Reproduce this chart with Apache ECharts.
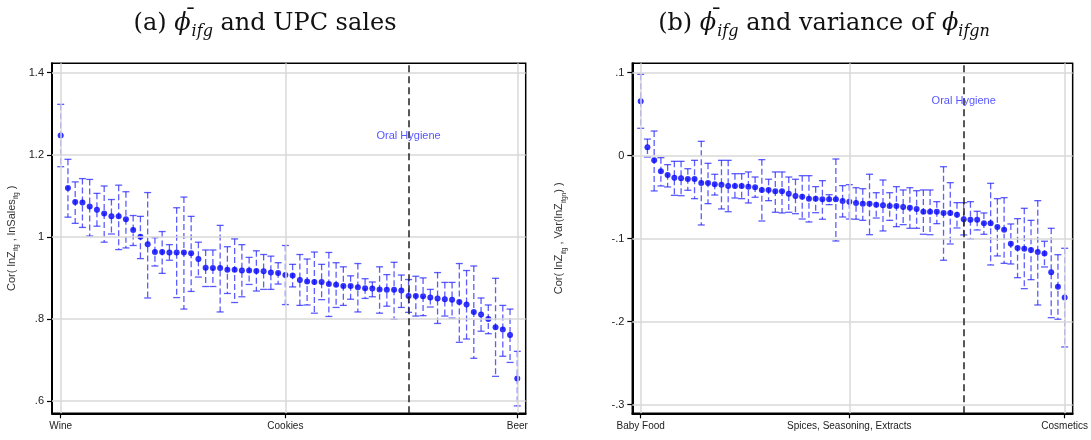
<!DOCTYPE html>
<html>
<head>
<meta charset="utf-8">
<script src="https://cdn.jsdelivr.net/npm/echarts@6/dist/echarts.min.js"></script>
<style>
  html, body { margin: 0; padding: 0; background: #fff; }
  #chart { width: 1091px; height: 440px; }
</style>
</head>
<body>
<div id="chart"></div>
<script>
// Panel (a): correlation of lnZ with lnSales, one point per product group (sorted)
const estA = [1.247,1.119,1.085,1.084,1.074,1.066,1.057,1.050,1.050,1.043,1.017,1.000,0.982,0.963,0.963,0.962,
  0.962,0.962,0.960,0.946,0.925,0.924,0.924,0.920,0.920,0.918,0.918,0.917,0.916,0.913,0.912,0.907,
  0.906,0.895,0.891,0.890,0.890,0.885,0.883,0.880,0.880,0.877,0.875,0.874,0.872,0.871,0.871,0.869,
  0.856,0.856,0.855,0.852,0.850,0.848,0.847,0.841,0.835,0.817,0.811,0.800,0.780,0.774,0.761,0.655];
const loA = [1.171,1.048,1.033,1.023,1.002,1.026,0.987,1.007,0.969,0.973,0.979,0.947,0.851,0.929,0.911,0.943,
  0.852,0.824,0.867,0.902,0.879,0.879,0.817,0.862,0.840,0.854,0.884,0.868,0.872,0.872,0.885,0.835,
  0.878,0.833,0.834,0.814,0.847,0.806,0.828,0.833,0.848,0.817,0.850,0.854,0.814,0.831,0.799,0.828,
  0.816,0.807,0.808,0.829,0.789,0.807,0.802,0.743,0.751,0.704,0.770,0.764,0.660,0.709,0.694,0.588];
const hiA = [1.323,1.189,1.134,1.142,1.140,1.106,1.124,1.091,1.126,1.110,1.052,1.050,1.108,0.998,1.013,0.981,
  1.071,1.097,1.050,0.987,0.968,0.968,1.028,0.976,0.995,0.981,0.950,0.966,0.957,0.953,0.937,0.979,
  0.933,0.957,0.946,0.963,0.933,0.962,0.937,0.927,0.905,0.935,0.898,0.890,0.927,0.908,0.938,0.907,
  0.896,0.904,0.900,0.872,0.913,0.889,0.889,0.935,0.918,0.929,0.851,0.834,0.899,0.833,0.824,0.721];
const tickPosA = [0, 31, 63];
const tickNamesA = ['Wine', 'Cookies', 'Beer'];
const yTicksA = [0.6, 0.8, 1.0, 1.2, 1.4];

// Panel (b): correlation of lnZ with the variance of lnZ across products
const estB = [0.0655,0.0101,-0.0056,-0.0188,-0.0233,-0.0265,-0.0273,-0.0281,-0.0281,-0.0329,-0.0329,-0.0345,-0.0349,-0.0365,-0.0365,-0.0365,
  -0.0373,-0.0381,-0.0413,-0.0413,-0.0429,-0.0429,-0.0458,-0.0486,-0.0494,-0.0518,-0.0518,-0.0525,-0.0525,-0.0525,-0.0546,-0.0554,
  -0.0570,-0.0578,-0.0578,-0.0590,-0.0598,-0.0606,-0.0606,-0.0618,-0.0627,-0.0642,-0.0675,-0.0675,-0.0675,-0.0692,-0.0692,-0.0711,
  -0.0766,-0.0771,-0.0771,-0.0815,-0.0815,-0.0859,-0.0892,-0.1060,-0.1112,-0.1120,-0.1136,-0.1160,-0.1180,-0.1405,-0.1578,-0.1710];
const loB = [0.033,-0.0016,-0.0425,-0.0365,-0.0377,-0.0478,-0.0482,-0.0417,-0.0518,-0.0835,-0.0578,-0.0474,-0.0642,-0.0675,-0.0510,-0.0518,
  -0.0570,-0.0501,-0.0787,-0.0542,-0.0682,-0.0690,-0.0682,-0.0699,-0.0763,-0.0799,-0.0687,-0.0766,-0.0590,-0.1028,-0.0739,-0.0763,
  -0.0766,-0.0779,-0.0952,-0.0751,-0.0907,-0.0779,-0.0855,-0.0831,-0.0875,-0.0875,-0.0947,-0.0952,-0.0819,-0.1260,-0.1064,-0.0871,
  -0.0955,-0.1004,-0.0895,-0.0947,-0.1317,-0.1208,-0.1297,-0.1305,-0.1470,-0.1602,-0.1494,-0.1799,-0.1341,-0.1952,-0.1971,-0.2305];
const hiB = [0.098,0.020,0.0297,-0.0024,-0.0108,-0.0068,-0.0068,-0.0157,-0.0056,0.0173,-0.0092,-0.0224,-0.0056,-0.0056,-0.0217,-0.0217,
  -0.0196,-0.0257,-0.0048,-0.0284,-0.0196,-0.0196,-0.0257,-0.0284,-0.0241,-0.0241,-0.0373,-0.0301,-0.0470,-0.0040,-0.0361,-0.0349,
  -0.0386,-0.0398,-0.0224,-0.0446,-0.0293,-0.0446,-0.0373,-0.0413,-0.0386,-0.0422,-0.0413,-0.0413,-0.0554,-0.0133,-0.0325,-0.0566,
  -0.0566,-0.0554,-0.0670,-0.0690,-0.0333,-0.0518,-0.0506,-0.0823,-0.0759,-0.0634,-0.0779,-0.0542,-0.1031,-0.0875,-0.1193,-0.1116];
const tickPosB = [0, 31, 63];
const tickNamesB = ['Baby Food', 'Spices, Seasoning, Extracts', 'Cosmetics'];
const yTicksB = [-0.3, -0.2, -0.1, 0, 0.1];

// Highlighted product group (dashed marker line)
const markerIndex = 48;
const markerName = 'Oral Hygiene';

const BLUE = '#0000ff';
const BAR = 'rgba(30,30,255,0.72)';
const GRID = '#d9d9d9';
const SANS = 'Liberation Sans, Arial, sans-serif';
const SERIF = 'DejaVu Serif, serif';

function stataNum(v) {
  const r = Math.round(v * 1000) / 1000;
  if (r === 0) return '0';
  let s = String(r);
  s = s.replace(/^0\./, '.').replace(/^-0\./, '-.');
  return s;
}

function errorBars(lo, hi) {
  return lo.map((l, i) => [i, l, hi[i]]);
}

function renderBar(params, api) {
  const x = api.value(0);
  const top = api.coord([x, api.value(2)]);
  const bot = api.coord([x, api.value(1)]);
  const w = 3.5;
  return {
    type: 'group',
    children: [
      { type: 'line', shape: { x1: top[0], y1: top[1], x2: bot[0], y2: bot[1] },
        style: { stroke: BAR, lineWidth: 1.3, lineDash: [6, 3] } },
      { type: 'line', shape: { x1: top[0] - w, y1: top[1], x2: top[0] + w, y2: top[1] },
        style: { stroke: BAR, lineWidth: 1.3 } },
      { type: 'line', shape: { x1: bot[0] - w, y1: bot[1], x2: bot[0] + w, y2: bot[1] },
        style: { stroke: BAR, lineWidth: 1.3 } }
    ]
  };
}

function xAxisFor(gridIndex, min, max, pos, names) {
  return {
    type: 'value', gridIndex, min, max,
    axisLine: { show: true, onZero: false, lineStyle: { color: '#000', width: 2 } },
    axisTick: { show: true, length: 5, customValues: pos, lineStyle: { color: '#000', width: 1.2 } },
    axisLabel: {
      customValues: pos, fontFamily: SANS, fontSize: 10, color: '#222', margin: 8,
      formatter: v => names[pos.indexOf(Math.round(v))] || ''
    },
    splitLine: { show: false }
  };
}

function yAxisFor(gridIndex, min, max, ticks, nameRich, nameGap) {
  return {
    type: 'value', gridIndex, min, max,
    axisLine: { show: true, onZero: false, lineStyle: { color: '#000', width: 2 } },
    axisTick: { show: true, length: 5, customValues: ticks, lineStyle: { color: '#000', width: 1.2 } },
    axisLabel: { customValues: ticks, fontFamily: SANS, fontSize: 11, color: '#222', margin: 8,
      formatter: v => stataNum(v) },
    splitLine: { show: false },
    name: nameRich, nameLocation: 'middle', nameGap,
    nameTextStyle: {
      fontFamily: SANS, fontSize: 11, color: '#333',
      rich: {
        s: { fontFamily: SANS, fontSize: 6.5, color: '#333', verticalAlign: 'bottom', lineHeight: 9 },
        n: { fontFamily: SANS, fontSize: 11, color: '#333', lineHeight: 16 }
      }
    }
  };
}

function gridSeries(xi, yi, yTicks, xPos) {
  return {
    type: 'scatter', xAxisIndex: xi, yAxisIndex: yi, data: [], z: 1, silent: true,
    markLine: {
      silent: true, symbol: 'none', animation: false,
      label: { show: false },
      lineStyle: { color: GRID, width: 1.5, type: 'solid' },
      data: yTicks.map(v => ({ yAxis: v })).concat(xPos.map(v => ({ xAxis: v })))
    }
  };
}

function pointsSeries(xi, yi, est) {
  return {
    type: 'scatter', xAxisIndex: xi, yAxisIndex: yi, z: 4,
    symbol: 'circle', symbolSize: 6,
    itemStyle: { color: BLUE },
    data: est.map((v, i) => [i, v]),
    markLine: {
      silent: true, symbol: 'none', animation: false,
      label: { show: false },
      lineStyle: { color: '#222', width: 1.5, type: [7, 4] },
      data: [{ xAxis: markerIndex }]
    }
  };
}

function markerLabel(xi, yi, y) {
  return {
    type: 'scatter', xAxisIndex: xi, yAxisIndex: yi, z: 5, symbolSize: 0, silent: true,
    data: [[markerIndex, y]],
    label: { show: true, position: 'inside', formatter: markerName,
      fontFamily: SANS, fontSize: 11, color: '#2a2aff' }
  };
}

// Title: the bar over phi is a zero-width, right-aligned macron token laid back over the glyph
function phiBar() {
  return '{phi|\u03D5}{bar|\u00AF}';
}
function titleText(prefix, rest, extra) {
  return '{n|' + prefix + ' }' + phiBar() + '{sub|ifg}{n|' + rest + '}' + (extra || '');
}
const titleRich = {
  n: { fontFamily: SERIF, fontWeight: 'normal', fontSize: 24, color: '#111', lineHeight: 33 },
  bar: { fontFamily: SERIF, fontWeight: 'normal', fontSize: 22, color: '#111', lineHeight: 33,
    width: 0.01, align: 'right', padding: [0, 1, 10, 0] },
  phi: { fontFamily: SERIF, fontWeight: 'normal', fontStyle: 'italic', fontSize: 24, color: '#111', lineHeight: 33 },
  sub: { fontFamily: SERIF, fontWeight: 'normal', fontStyle: 'italic', fontSize: 16, color: '#111',
    lineHeight: 24, verticalAlign: 'bottom' }
};

const chart = echarts.init(document.getElementById('chart'), null, { renderer: 'canvas' });
chart.setOption({
  animation: false,
  backgroundColor: '#fff',
  title: [
    { text: titleText('(a)', ' and UPC sales'), left: 260, top: 2, textAlign: 'center',
      textStyle: { fontWeight: 'normal', rich: titleRich } },
    { text: titleText('(b)', ' and variance of ', '{phi|\u03D5}{sub|ifgn}'), left: 819, top: 2, textAlign: 'center',
      textStyle: { fontWeight: 'normal', rich: titleRich } }
  ],
  grid: [
    { left: 52, top: 63.3, width: 473.7, height: 350, show: true, borderColor: '#000', borderWidth: 1.5 },
    { left: 632.3, top: 63.3, width: 441, height: 350, show: true, borderColor: '#000', borderWidth: 1.5 }
  ],
  xAxis: [
    xAxisFor(0, -1.2, 64.16, tickPosA, tickNamesA),
    xAxisFor(1, -1.25, 64.19, tickPosB, tickNamesB)
  ],
  yAxis: [
    yAxisFor(0, 0.570, 1.423, yTicksA, '{n|Cor( lnZ}{s|ifg}{n| , lnSales}{s|ifg}{n| )}', 32),
    yAxisFor(1, -0.3104, 0.1113, yTicksB, '{n|Cor( lnZ}{s|ifg}{n| , Var(lnZ}{s|ifgn}{n|) )}', 65)
  ],
  series: [
    gridSeries(0, 0, yTicksA, tickPosA),
    gridSeries(1, 1, yTicksB, tickPosB),
    { type: 'custom', xAxisIndex: 0, yAxisIndex: 0, z: 3, renderItem: renderBar,
      data: errorBars(loA, hiA), encode: { x: 0, y: [1, 2] } },
    { type: 'custom', xAxisIndex: 1, yAxisIndex: 1, z: 3, renderItem: renderBar,
      data: errorBars(loB, hiB), encode: { x: 0, y: [1, 2] } },
    pointsSeries(0, 0, estA),
    pointsSeries(1, 1, estB),
    markerLabel(0, 0, 1.245),
    markerLabel(1, 1, 0.066)
  ]
});
</script>
</body>
</html>
